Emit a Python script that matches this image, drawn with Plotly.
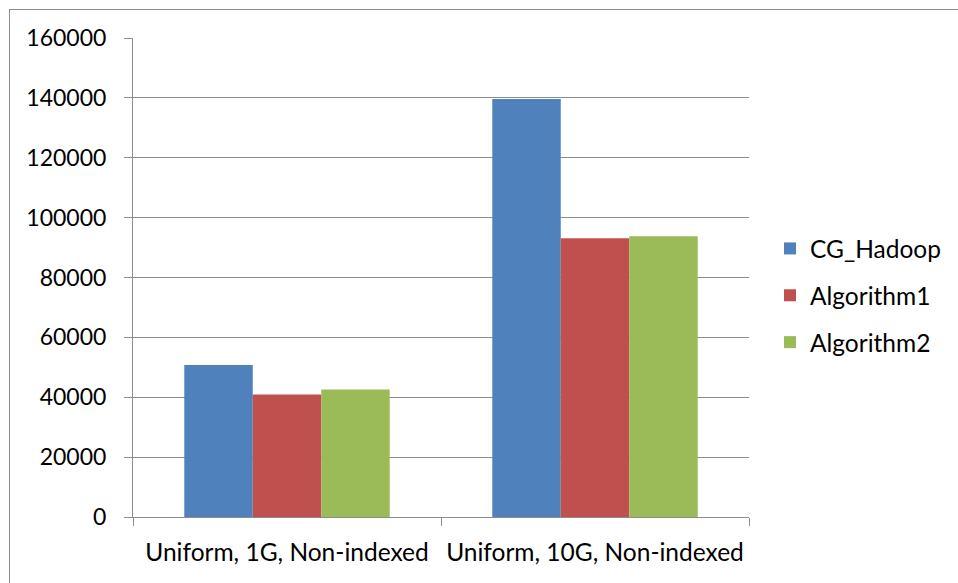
import plotly.graph_objects as go

categories = ["Uniform, 1G, Non-indexed", "Uniform, 10G, Non-indexed"]
series_names = ["CG_Hadoop", "Algorithm1", "Algorithm2"]
cg_hadoop = [50800, 139600]
algorithm1 = [40900, 93100]
algorithm2 = [42600, 93800]
y_ticks = [0, 20000, 40000, 60000, 80000, 100000, 120000, 140000, 160000]

colors = ["#4F81BD", "#C0504D", "#9BBB59"]
grid_color = "#8C8C8C"
font_family = "Lato, 'Open Sans', sans-serif"

W, H = 958, 583
ML, MR, MT, MB = 133, 209, 38, 66
PW, PH = W - ML - MR, H - MT - MB

fig = go.Figure()
for i, (name, vals) in enumerate(zip(series_names, [cg_hadoop, algorithm1, algorithm2])):
    fig.add_trace(go.Bar(
        x=categories, y=vals, name=name,
        marker=dict(color=colors[i], line=dict(width=0)),
        legendgroup=name,
    ))

def px_x(p):
    return (p - ML) / PW

def px_y(p):
    return (H - MB - p) / PH

fig.update_layout(
    width=W, height=H,
    margin=dict(l=ML, r=MR, t=MT, b=MB, pad=0),
    paper_bgcolor="white", plot_bgcolor="white",
    barmode="group", bargap=0.333, bargroupgap=0,
    font=dict(family=font_family, size=23, color="#000000"),
    showlegend=True,
    legend=dict(
        x=px_x(770), y=px_y(226), xanchor="left", yanchor="top",
        font=dict(size=24.5), tracegroupgap=12, traceorder="grouped",
        bgcolor="rgba(0,0,0,0)",
    ),
    xaxis=dict(
        type="category", showgrid=False, showline=True, linecolor=grid_color, linewidth=1,
        ticks="outside", tickson="boundaries", ticklen=8, tickcolor=grid_color, tickwidth=1,
        ticklabelstandoff=14, tickfont=dict(size=24.5), zeroline=False,
    ),
    yaxis=dict(
        range=[0, 160000], tickvals=y_ticks, ticktext=[str(v) for v in y_ticks],
        showgrid=True, gridcolor=grid_color, gridwidth=1,
        showline=True, linecolor=grid_color, linewidth=1,
        ticks="outside", ticklen=8, tickcolor=grid_color, tickwidth=1,
        ticklabelstandoff=13, tickfont=dict(size=23), zeroline=False,
    ),
    shapes=[
        dict(type="line", xref="paper", yref="paper",
             x0=px_x(9.5), x1=px_x(9.5), y0=px_y(9), y1=px_y(600),
             line=dict(color=grid_color, width=1)),
        dict(type="line", xref="paper", yref="paper",
             x0=px_x(9), x1=px_x(970), y0=px_y(9.5), y1=px_y(9.5),
             line=dict(color=grid_color, width=1)),
    ],
)

fig.write_html("out.html")
